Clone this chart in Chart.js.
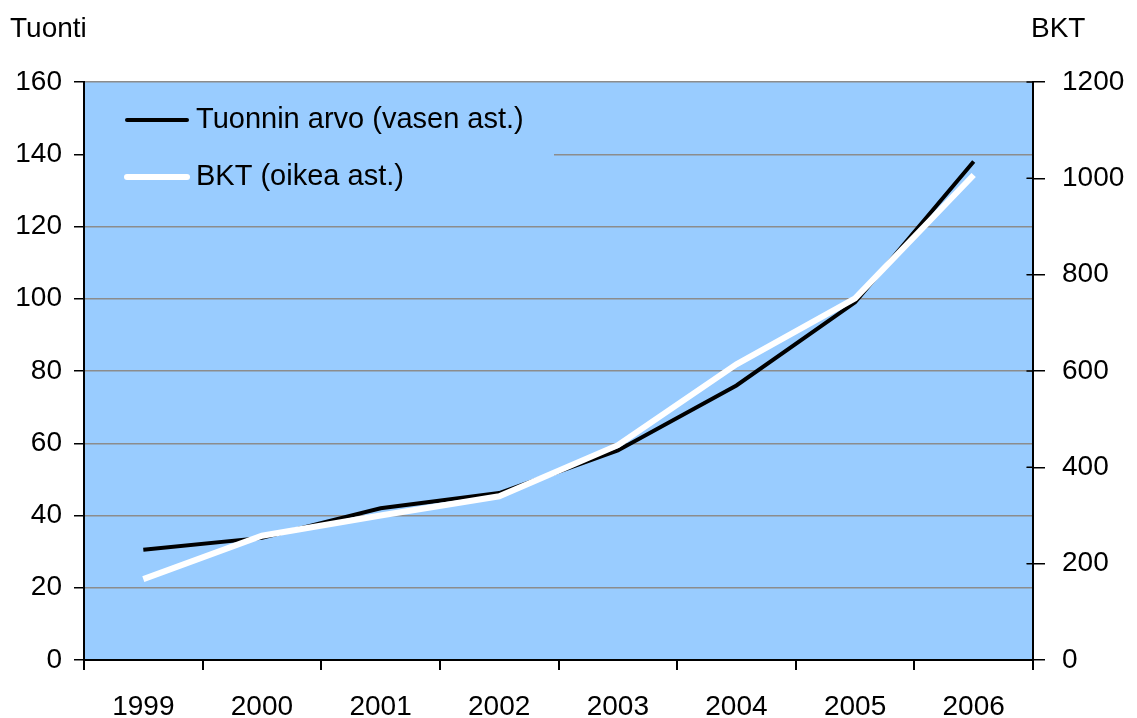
<!DOCTYPE html>
<html>
<head>
<meta charset="utf-8">
<title>Tuonti ja BKT</title>
<script src="https://cdn.jsdelivr.net/npm/chart.js@4.4.0/dist/chart.umd.min.js"></script>
<style>
  html, body { margin: 0; padding: 0; background: #fff; }
  #wrap { width: 1137px; height: 718px; position: relative; }
</style>
</head>
<body>
<div id="wrap"><canvas id="myChart" width="1137" height="718"></canvas></div>
<script>
// data
var years = ['1999', '2000', '2001', '2002', '2003', '2004', '2005', '2006'];
var tuonti = [30.5, 33.8, 42, 46.2, 58, 76, 99, 138];
var bkt = [168, 258, 300, 340, 446, 614, 751, 1007];
var leftTicks = [0, 20, 40, 60, 80, 100, 120, 140, 160];
var rightTicks = [0, 200, 400, 600, 800, 1000, 1200];

var FONT = '"Liberation Sans", Arial, sans-serif';

// blue plot background + axis titles + legend drawn inside the plot
var decor = {
  id: 'decor',
  beforeDraw: function(chart) {
    var a = chart.chartArea, c = chart.ctx;
    c.save();
    c.fillStyle = '#99ccff';
    c.fillRect(a.left, a.top, a.right - a.left, a.bottom - a.top);
    c.restore();
  },
  afterDatasetsDraw: function(chart) {
    var a = chart.chartArea, c = chart.ctx;
    c.save();
    // legend box hides the gridlines behind it
    c.fillStyle = '#99ccff';
    c.fillRect(a.left + 1, a.top + 2, 469, 116);
    var items = [['Tuonnin arvo (vasen ast.)', '#000000', 4, 120],
                 ['BKT (oikea ast.)', '#ffffff', 6, 177]];
    c.font = '29px ' + FONT;
    c.textBaseline = 'middle';
    items.forEach(function(it) {
      c.strokeStyle = it[1];
      c.lineWidth = it[2];
      c.lineCap = 'round';
      c.beginPath();
      c.moveTo(127, it[3]);
      c.lineTo(187, it[3]);
      c.stroke();
      c.fillStyle = '#000';
      c.fillText(it[0], 196, it[3]);
    });
    c.font = '28px ' + FONT;
    c.fillText('Tuonti', 10, 29);
    c.fillText('BKT', 1031, 29);
    // right axis ticks also cross into the plot
    var s = chart.scales.y2;
    c.strokeStyle = '#000';
    c.lineWidth = 1.5;
    rightTicks.forEach(function(v) {
      var py = s.getPixelForValue(v);
      c.beginPath();
      c.moveTo(a.right - 6, py);
      c.lineTo(a.right, py);
      c.stroke();
    });
    c.restore();
  }
};

var ctx = document.getElementById('myChart').getContext('2d');
var chart = new Chart(ctx, {
  type: 'line',
  data: {
    labels: years,
    datasets: [
      {
        label: 'Tuonnin arvo (vasen ast.)',
        data: tuonti,
        borderColor: '#000000',
        borderWidth: 4,
        pointRadius: 0,
        tension: 0,
        yAxisID: 'y',
        order: 2
      },
      {
        label: 'BKT (oikea ast.)',
        data: bkt,
        borderColor: '#ffffff',
        borderWidth: 6,
        pointRadius: 0,
        tension: 0,
        yAxisID: 'y2',
        order: 1
      }
    ]
  },
  plugins: [decor],
  options: {
    responsive: false,
    animation: false,
    layout: { padding: { top: 82, left: 0, right: 0, bottom: 0 } },
    plugins: { legend: { display: false }, tooltip: { enabled: false } },
    scales: {
      x: {
        offset: true,
        grid: { offset: true, drawOnChartArea: false, tickLength: 10, tickColor: '#000', lineWidth: 2 },
        border: { color: '#000', width: 2 },
        ticks: { color: '#000', font: { family: FONT, size: 28 }, padding: 20, maxRotation: 0 },
        afterFit: function(s) { s.height = 58; }
      },
      y: {
        position: 'left',
        min: 0, max: 160,
        afterBuildTicks: function(s) { s.ticks = leftTicks.map(function(v) { return { value: v }; }); },
        grid: { color: '#8c8c8c', lineWidth: 1.5, tickLength: 10, tickColor: '#000' },
        border: { color: '#000', width: 2 },
        ticks: { color: '#000', font: { family: FONT, size: 28 }, padding: 12 },
        afterFit: function(s) { s.width = 84; }
      },
      y2: {
        position: 'right',
        min: 0, max: 1200,
        afterBuildTicks: function(s) { s.ticks = rightTicks.map(function(v) { return { value: v }; }); },
        grid: { drawOnChartArea: false, tickLength: 12, tickColor: '#000', lineWidth: 1.5 },
        border: { color: '#000', width: 2 },
        ticks: { color: '#000', font: { family: FONT, size: 28 }, padding: 17,
                 callback: function(v) { return String(v); } },
        afterFit: function(s) { s.width = 104; }
      }
    }
  }
});
</script>
</body>
</html>
